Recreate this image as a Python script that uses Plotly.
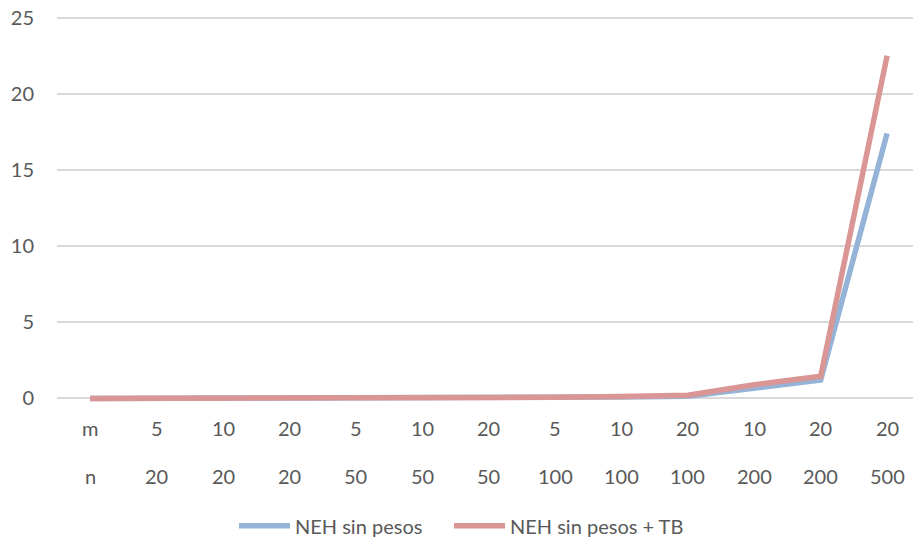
import plotly.graph_objects as go

# Instance sizes: machines (m) and jobs (n); first column holds the row headers
m_labels = ["m", "5", "10", "20", "5", "10", "20", "5", "10", "20", "10", "20", "20"]
n_labels = ["n", "20", "20", "20", "50", "50", "50", "100", "100", "100", "200", "200", "500"]

# Computation times per instance
neh_sin_pesos = [0, 0, 0, 0, 0, 0.01, 0.02, 0.05, 0.09, 0.14, 0.65, 1.2, 17.4]
neh_sin_pesos_tb = [0, 0, 0, 0, 0, 0.01, 0.03, 0.07, 0.12, 0.2, 0.9, 1.45, 22.5]

series_names = ["NEH sin pesos", "NEH sin pesos + TB"]
series_colors = ["#95B3D7", "#D99694"]

y_ticks = [0, 5, 10, 15, 20, 25]

W, H = 914, 540
x_pos = list(range(len(m_labels)))
font_family = "Lato, 'Open Sans', sans-serif"
text_color = "#595959"
fsize = 20

fig = go.Figure()
for name, vals, col in zip(series_names, [neh_sin_pesos, neh_sin_pesos_tb], series_colors):
    fig.add_trace(go.Scatter(
        x=x_pos, y=vals, mode="lines", name=name,
        line=dict(color=col, width=5.5), showlegend=False,
    ))

# Two-row category labels under the axis
for i in x_pos:
    fig.add_annotation(x=i, y=-0.0567, xref="x", yref="paper", text=m_labels[i],
                       showarrow=False, yanchor="middle", xanchor="center",
                       font=dict(family=font_family, size=fsize, color=text_color))
    fig.add_annotation(x=i, y=-0.178, xref="x", yref="paper", text=n_labels[i],
                       showarrow=False, yanchor="middle", xanchor="center",
                       font=dict(family=font_family, size=fsize, color=text_color))

# Legend drawn below the chart: line sample followed by series name
legend_y = 1 - 525 / H
legend_items = [(239, 290, 293), (454, 505, 508)]
for (x0, x1, xt), name, col in zip(legend_items, series_names, series_colors):
    fig.add_shape(type="line", xref="paper", yref="paper",
                  x0=(x0 - 57) / (W - 58), x1=(x1 - 57) / (W - 58),
                  y0=(405.6 - 525) / 395.2, y1=(405.6 - 525) / 395.2,
                  line=dict(color=col, width=5.5))
    fig.add_annotation(x=(xt - 57) / (W - 58), y=(405.6 - 525) / 395.2,
                       xref="paper", yref="paper", text=name, showarrow=False,
                       xanchor="left", yanchor="middle",
                       font=dict(family=font_family, size=fsize, color=text_color))

fig.update_layout(
    width=W, height=H,
    margin=dict(l=57, r=1, t=10.4, b=134.4),
    plot_bgcolor="white", paper_bgcolor="white",
    font=dict(family=font_family, size=fsize, color=text_color),
    showlegend=False,
    xaxis=dict(range=[-0.5, 12.39], showticklabels=False, showgrid=False,
               zeroline=False, showline=False, ticks=""),
    yaxis=dict(range=[-0.5, 25.5], tickvals=y_ticks, showgrid=True,
               gridcolor="#D9D9D9", gridwidth=1.5, zeroline=False, showline=False,
               ticks="", ticklabelstandoff=22,
               tickfont=dict(family=font_family, size=fsize, color=text_color)),
)

fig.write_html("out.html")
